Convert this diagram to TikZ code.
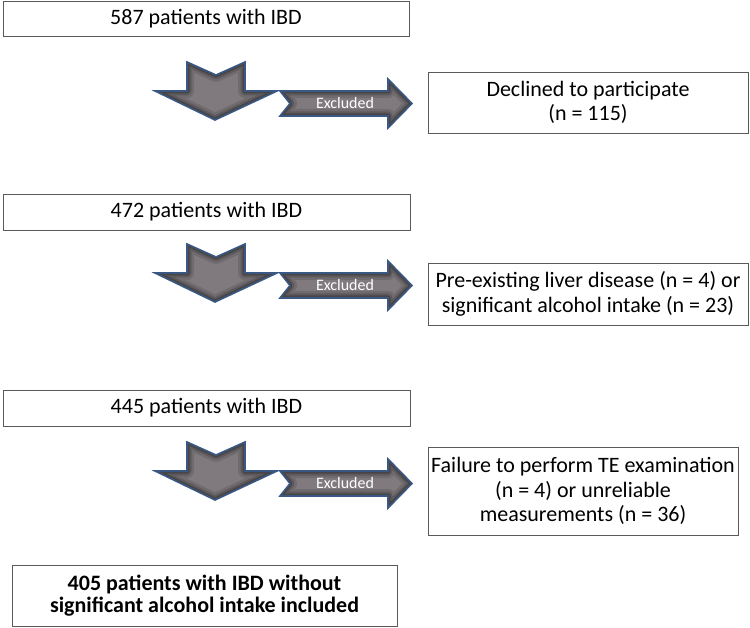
\documentclass[tikz,border=0pt]{standalone}
\usepackage{fontspec}
\setmainfont{Carlito}
\definecolor{arrowblue}{RGB}{58,88,132}
\definecolor{arrowgray}{RGB}{128,122,126}
\definecolor{boxline}{RGB}{90,90,90}
\newcommand{\fancyshape}[1]{%
  \fill[arrowgray] #1;
  \begin{scope}
    \clip #1;
    \draw[black, opacity=0.12, line width=14pt, line join=round] #1;
    \draw[black, opacity=0.16, line width=9pt, line join=round] #1;
    \draw[black, opacity=0.22, line width=5pt, line join=round] #1;
  \end{scope}
  \draw[arrowline] #1;
}
\newcommand{\arrowpair}[2]{%
  \begin{scope}[yshift=-#1pt]
    \fancyshape{(155,0) -- (187,0) -- (187,-29) -- (216,-16) -- (245,-29) -- (245,0) -- (277,0) -- (215,29) -- cycle}
    \fancyshape{(280,0) -- (388,0) -- (388,-12) -- (412,12.5) -- (388,37) -- (388,25) -- (280,25) -- (290,12.5) -- cycle}
    \node[exctext] (#2) at (345,12.5) {Excluded};
  \end{scope}
}
\begin{document}
\begin{tikzpicture}[x=1pt,y=-1pt,
  box/.style={draw=boxline, line width=0.9pt, fill=white, align=center, inner sep=0pt,
    font=\fontsize{22}{24.5}\selectfont},
  arrowline/.style={draw=arrowblue, line width=1.6pt, line join=miter},
  exctext/.style={text=white, inner sep=0pt, font=\fontsize{16}{17}\selectfont}]
\useasboundingbox (0,0) rectangle (750,628);

\node[box, minimum width=406pt, minimum height=35pt] (b1) at (206,18.5) {587 patients with IBD};
\node[box, minimum width=320pt, minimum height=61pt] (r1) at (588,102.5) {Declined to participate\\(n = 115)};
\arrowpair{91}{ex1}

\node[box, minimum width=407pt, minimum height=36pt] (b2) at (206.5,212) {472 patients with IBD};
\node[box, minimum width=320pt, minimum height=62pt] (r2) at (588,294) {Pre-existing liver disease (n = 4) or\\significant alcohol intake (n = 23)};
\arrowpair{273}{ex2}

\node[box, minimum width=407pt, minimum height=36pt] (b3) at (206.5,408) {445 patients with IBD};
\node[box, minimum width=310pt, minimum height=88pt] (r3) at (583,491) {Failure to perform TE examination\\(n = 4) or unreliable\\measurements (n = 36)};
\arrowpair{471}{ex3}

\node[box, minimum width=385pt, minimum height=61pt, font=\fontsize{22}{22.5}\selectfont\bfseries] (b4) at (204.5,595.5) {405 patients with IBD without\\significant alcohol intake included};
\end{tikzpicture}
\end{document}
